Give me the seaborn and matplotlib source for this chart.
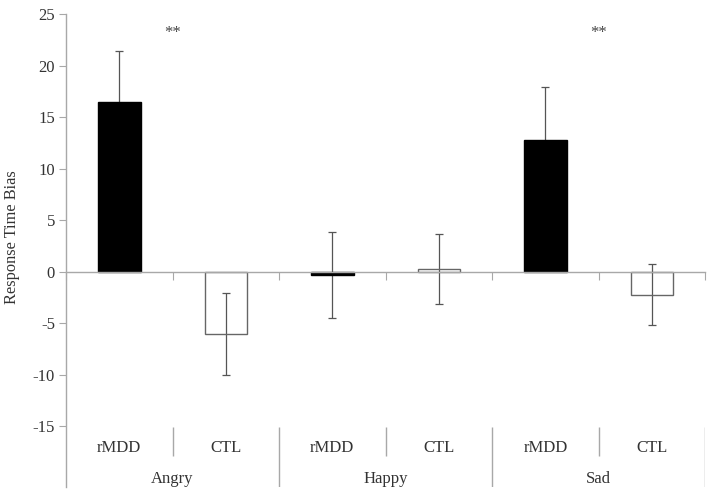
import numpy as np
import pandas as pd
import matplotlib.pyplot as plt
import seaborn as sns

# dados
emocoes = ["Angry", "Happy", "Sad"]
grupos = ["rMDD", "CTL"]
medias = [16.45, -6.05, -0.3, 0.25, 12.8, -2.25]
erros = [5.0, 3.95, 4.15, 3.4, 5.15, 2.95]
asteriscos = ["**", "", "**"]
yticks = [-15, -10, -5, 0, 5, 10, 15, 20, 25]

df = pd.DataFrame({
    "cond": [f"{e}-{g}" for e in emocoes for g in grupos],
    "grupo": [g for e in emocoes for g in grupos],
    "media": medias,
})

sns.set_style("white")
plt.rcParams["font.family"] = ["Liberation Serif", "DejaVu Serif"]
plt.rcParams["axes.unicode_minus"] = False

cinza = "#a8a8a8"
texto = "#333333"
cores = ["black" if g == "rMDD" else "white" for g in df["grupo"]]

fig = plt.figure(figsize=(7.13, 4.96), dpi=100)
ax = fig.add_axes([0.0926, 0.018, 0.8964, 0.9536])

x = np.arange(len(df))

# barras de erro atras das barras (pretas escondem a parte de baixo)
ax.errorbar(x, df["media"], yerr=erros, fmt="none", ecolor="#555555",
            elinewidth=0.9, capsize=3, capthick=0.9, zorder=1)

sns.barplot(data=df, x="cond", y="media", hue="cond", palette=cores,
            width=0.4, dodge=False, legend=False, ax=ax, zorder=2)
for p, g in zip(ax.patches, df["grupo"]):
    if g == "CTL":
        p.set_facecolor("none")
        p.set_edgecolor("#666666")
        p.set_linewidth(1.0)
    else:
        p.set_facecolor("black")
        p.set_edgecolor("black")

# eixos
ax.set_xlim(-0.5, 5.5)
ax.set_ylim(-20.9, 25)
ax.set_yticks(yticks)
ax.set_xticks(np.arange(-0.5, 6, 1))
ax.set_xticklabels([])
ax.set_xlabel("")
ax.spines["top"].set_visible(False)
ax.spines["right"].set_visible(False)
ax.spines["bottom"].set_position(("data", 0))
ax.spines["bottom"].set_bounds(-0.5, 5.5)
for s in ["left", "bottom"]:
    ax.spines[s].set_color(cinza)
    ax.spines[s].set_linewidth(1.0)
ax.tick_params(axis="y", direction="out", length=5, color=cinza,
               labelsize=12, labelcolor=texto, left=True, pad=3)
ax.tick_params(axis="x", direction="out", length=6, color=cinza, bottom=True)
ax.set_ylabel("Response Time Bias", fontsize=11.8, color=texto)
ax.yaxis.set_label_coords(-0.072, 0.529)

# rotulos de categoria em dois niveis
for i, g in enumerate(df["grupo"]):
    ax.text(i, -17.1, g, ha="center", va="center", fontsize=12, color=texto)
for j, e in enumerate(emocoes):
    ax.text(2 * j + 0.5, -20.1, e, ha="center", va="center", fontsize=12,
            color=texto)
    if asteriscos[j]:
        ax.text(2 * j + 0.5, 23.2, asteriscos[j], ha="center", va="center",
                fontsize=12, color="#444444")
ax.vlines([0.5, 2.5, 4.5], -15.1, -17.9, color=cinza, linewidth=1.0)
ax.vlines([1.5, 3.5, 5.5], -15.1, -20.9, color=cinza, linewidth=1.0)

fig.savefig("out.png", dpi=100)
plt.close(fig)
